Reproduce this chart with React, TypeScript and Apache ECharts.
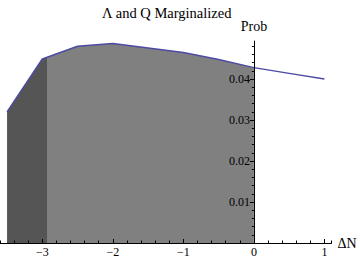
import React, { useEffect, useRef } from "react";
import * as echarts from "echarts";

// ΔN values and marginalized probability
const deltaN = [-3.5, -3, -2.5, -2, -1.5, -1, -0.5, 0, 0.5, 1];
const prob = [0.032, 0.0449, 0.048, 0.0487, 0.0476, 0.0465, 0.0448, 0.0428, 0.0414, 0.04];
// filled region ends at ΔN = 0, darker band left of darkEdge
const fillEnd = 0;
const darkEdge = -2.93;

const xMin = -3.6;
const xMax = 1.1;
const yMax = 0.0493;
const xTickValues = [-3, -2, -1, 0, 1];
const yTickValues = [0.01, 0.02, 0.03, 0.04];
const yMinorTicks = [
  0.002, 0.004, 0.006, 0.008, 0.012, 0.014, 0.016, 0.018, 0.022, 0.024, 0.026, 0.028,
  0.032, 0.034, 0.036, 0.038, 0.042, 0.044, 0.046, 0.048,
];

const FONT = "'Liberation Serif', 'Times New Roman', serif";
const W = 360;
const H = 260;

export default function App() {
  const ref = useRef<HTMLDivElement>(null);

  useEffect(() => {
    if (!ref.current) return;
    document.body.style.margin = "0";
    const chart = echarts.init(ref.current, undefined, { renderer: "svg" });

    const linePts = deltaN.map((x, i) => [x, prob[i]]);
    const fillPts = linePts.filter((p) => p[0] <= fillEnd);

    const axisFont = { fontFamily: FONT, fontSize: 12, color: "#000" };
    const nameFont = { fontFamily: FONT, fontSize: 14, color: "#000" };
    const black = { color: "#000", width: 1 };

    chart.setOption({
      animation: false,
      title: {
        text: "Λ and Q Marginalized",
        left: 97,
        top: 0,
        textStyle: { fontFamily: FONT, fontSize: 14.5, fontWeight: "normal", color: "#000" },
      },
      grid: {
        left: 0,
        right: 28.5,
        top: 41,
        bottom: 17,
        containLabel: false,
        outerBoundsMode: "none",
      },
      xAxis: [
        {
          type: "value",
          min: xMin,
          max: xMax,
          position: "bottom",
          z: 10,
          axisLine: { onZero: false, lineStyle: black },
          axisTick: { show: true, inside: true, length: 4, customValues: xTickValues, lineStyle: black },
          axisLabel: {
            customValues: xTickValues,
            margin: 3,
            ...axisFont,
            formatter: (v: number) => (v < 0 ? "\u2212" + Math.abs(v) : String(v)),
          },
          splitLine: { show: false },
          name: "ΔN",
          nameLocation: "end",
          nameGap: 6,
          nameTextStyle: nameFont,
        },
        {
          type: "value",
          min: xMin,
          max: xMax,
          interval: 0.2,
          position: "bottom",
          z: 10,
          axisLine: { show: false, onZero: false },
          axisTick: { show: true, inside: true, length: 2.5, lineStyle: black },
          axisLabel: { show: false },
          splitLine: { show: false },
        },
      ],
      yAxis: [
        {
          type: "value",
          min: 0,
          max: yMax,
          position: "left",
          z: 10,
          axisLine: { show: true, onZero: false, lineStyle: black },
          axisTick: { show: true, length: 4, customValues: yTickValues, lineStyle: black },
          axisLabel: {
            customValues: yTickValues,
            margin: 4,
            ...axisFont,
            formatter: (v: number) => v.toFixed(2),
          },
          splitLine: { show: false },
          name: "Prob",
          nameLocation: "end",
          nameGap: 8,
          nameTextStyle: nameFont,
        },
        {
          type: "value",
          min: 0,
          max: yMax,
          position: "left",
          z: 10,
          axisLine: { show: false, onZero: false },
          axisTick: { show: true, length: 2, customValues: yMinorTicks, lineStyle: black },
          axisLabel: { show: false },
          splitLine: { show: false },
        },
      ],
      series: [
        {
          type: "line",
          xAxisIndex: 0,
          yAxisIndex: 0,
          data: fillPts,
          showSymbol: false,
          lineStyle: { width: 0, opacity: 0 },
          areaStyle: { opacity: 1, color: "#808080" },
          z: 1,
        },
        {
          type: "line",
          xAxisIndex: 0,
          yAxisIndex: 0,
          data: linePts,
          showSymbol: false,
          lineStyle: { color: "#4b4ba3", width: 1.5 },
          itemStyle: { color: "#4b4ba3" },
          z: 3,
        },
      ],
    });

    // place the y axis at ΔN = 0 and the dark band edge, both through the x scale
    const px0 = chart.convertToPixel({ xAxisIndex: 0 }, 0) as number;
    const pxMin = chart.convertToPixel({ xAxisIndex: 0 }, xMin) as number;
    const edgePx = chart.convertToPixel({ xAxisIndex: 0 }, darkEdge) as number;
    const yOffset = -(px0 - pxMin);
    const o = Math.min(Math.max(edgePx / W, 0), 1);
    chart.setOption({
      yAxis: [{ offset: yOffset }, { offset: yOffset }],
      series: [
        {
          areaStyle: {
            opacity: 1,
            color: new echarts.graphic.LinearGradient(
              0,
              0,
              W,
              0,
              [
                { offset: 0, color: "#555555" },
                { offset: o, color: "#555555" },
                { offset: o, color: "#808080" },
                { offset: 1, color: "#808080" },
              ],
              true
            ),
          },
        },
      ],
    });

    return () => chart.dispose();
  }, []);

  return <div ref={ref} style={{ width: W, height: H }} />;
}
